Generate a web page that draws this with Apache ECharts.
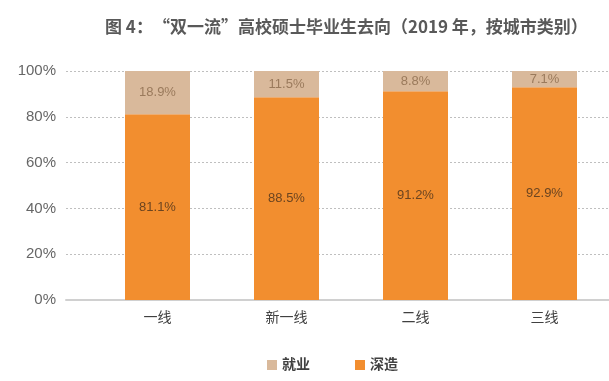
<!DOCTYPE html>
<html>
<head>
<meta charset="utf-8">
<script src="https://cdn.jsdelivr.net/npm/echarts@6/dist/echarts.min.js"></script>
<style>html,body{margin:0;padding:0;background:#fff}#c{width:609px;height:381px}</style>
</head>
<body>
<div id="c"></div>
<script>
const titleText = '图 4：“双一流”高校硕士毕业生去向（2019 年，按城市类别）';
const categories = ['一线', '新一线', '二线', '三线'];
const jiuye = [18.9, 11.5, 8.8, 7.1];
const shenzao = [81.1, 88.5, 91.2, 92.9];
const yTicks = [0, 20, 40, 60, 80, 100];

const latin = '"Liberation Sans", "Noto Sans CJK SC", sans-serif';
const cjk = '"Noto Sans CJK SC", sans-serif';
const chart = echarts.init(document.getElementById('c'), null, {renderer: 'canvas'});
chart.setOption({
  animation: false,
  backgroundColor: '#fff',
  title: {
    text: titleText, left: 100, top: 13,
    textStyle: {fontSize: 17, fontWeight: 'bold', color: '#595959', fontFamily: cjk}
  },
  legend: {
    data: ['就业', '深造'], left: 262, top: 353,
    icon: 'rect', itemWidth: 10, itemHeight: 10, itemGap: 45,
    textStyle: {fontSize: 14, fontWeight: 'bold', color: '#404040', fontFamily: latin}
  },
  grid: [
    {left: 66, right: 0, top: 71, bottom: 81},
    {left: 93, width: 525, top: 71, bottom: 81}
  ],
  xAxis: [
    {gridIndex: 0, type: 'category', data: [''], axisTick: {show: false}, axisLabel: {show: false},
     axisLine: {lineStyle: {color: '#d0d0d0', width: 2}}},
    {gridIndex: 1, type: 'category', data: categories, axisTick: {show: false}, axisLine: {show: false},
     axisLabel: {margin: 11, fontSize: 14, color: '#404040', fontFamily: latin}}
  ],
  yAxis: [
    {gridIndex: 0, type: 'value', min: 0, max: 100, interval: 20,
     axisLine: {show: false}, axisTick: {show: false},
     axisLabel: {formatter: v => yTicks.includes(v) ? v + '%' : '', fontSize: 15, color: '#666666', margin: 10, fontFamily: latin},
     splitLine: {lineStyle: {color: '#bfbfbf', type: [2, 2], width: 1}}},
    {gridIndex: 1, type: 'value', min: 0, max: 100, show: false, splitLine: {show: false}}
  ],
  series: [
    {name: '深造', type: 'bar', stack: 's', xAxisIndex: 1, yAxisIndex: 1, data: shenzao, barWidth: 65,
     itemStyle: {color: '#F28E2F'},
     label: {show: true, position: 'inside', formatter: p => p.value.toFixed(1) + '%', fontSize: 13, color: '#6b4420', fontFamily: latin}},
    {name: '就业', type: 'bar', stack: 's', xAxisIndex: 1, yAxisIndex: 1, data: jiuye, barWidth: 65,
     itemStyle: {color: '#D9B99B'},
     label: {show: true, position: 'inside', formatter: p => p.value.toFixed(1) + '%', fontSize: 13, color: '#9a7a5c', fontFamily: latin}}
  ]
});
</script>
</body>
</html>
